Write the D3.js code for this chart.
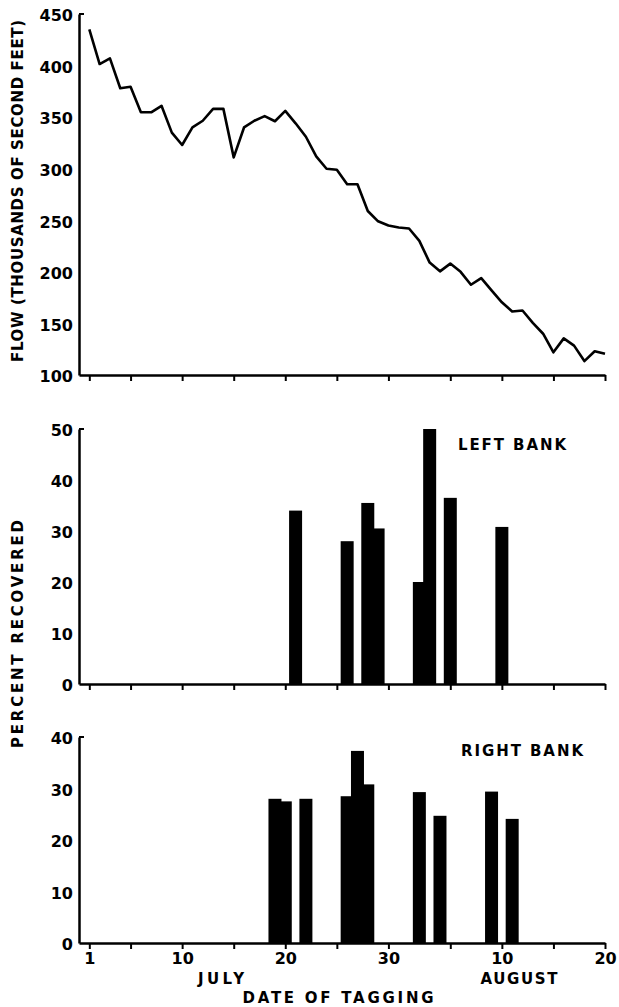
<!DOCTYPE html>
<html><head><meta charset="utf-8">
<script src="https://cdn.jsdelivr.net/npm/d3@7"></script>
<style>
html,body{margin:0;padding:0;background:#fff;}
svg text{font-family:"DejaVu Sans",sans-serif;font-weight:bold;fill:#000;}
</style></head>
<body>
<svg id="c" width="619" height="1007"></svg>
<script>
// ---- data ----
const flowDays = d3.range(1, 52); // July 1 (1) .. Aug 20 (51)
const flowValues = [435,401.5,407,378,379.5,354.7,354.7,361,335,323,340,346.5,358,358,311,340,346.5,351,346,356,344,331,312,300,299,285,285,259,249,245,243,242,230,209,200.5,208,200,187.5,194,182,170.5,161.5,162.5,150.5,140,122,135.5,128.5,113.5,123,120.5];
const leftDays = [21, 26, 28, 29, 33, 34, 36, 41];
const leftValues = [34, 28, 35.5, 30.5, 20, 50, 36.5, 30.8];
const rightDays = [19, 20, 22, 26, 27, 28, 33, 35, 40, 42];
const rightValues = [28, 27.5, 28, 28.5, 37.3, 30.8, 29.3, 24.7, 29.4, 24.1];
const tickDays = [1, 5, 10, 15, 20, 25, 30, 36, 41, 46, 51];
const tickLabelDays = [1, 10, 20, 30, 41, 51];
const tickLabels = ["1", "10", "20", "30", "10", "20"];
const flowTicks = [100,150,200,250,300,350,400,450];
const leftTicks = [0,10,20,30,40,50];
const rightTicks = [0,10,20,30,40];

// ---- layout ----
const svg = d3.select("#c");
svg.append("rect").attr("width",619).attr("height",1007).attr("fill","#fff");
const x = d3.scaleLinear().domain([0, 51]).range([79, 605]);
const yFlow = d3.scaleLinear().domain([100, 450]).range([375, 14]);
const yLeft = d3.scaleLinear().domain([0, 50]).range([684, 429]);
const yRight = d3.scaleLinear().domain([0, 40]).range([943, 737]);
const barHalf = 0.63;

function xAxis(y0, withLabels) {
  const lab = new Map(tickLabelDays.map((d,i)=>[d, tickLabels[i]]));
  const ax = d3.axisBottom(x).tickValues(tickDays).tickSizeInner(6).tickSizeOuter(0)
    .tickPadding(4).tickFormat(d => withLabels ? (lab.get(d) || "") : "");
  const g = svg.append("g").attr("transform", `translate(0,${y0})`).call(ax);
  g.select(".domain").attr("stroke","#000").attr("stroke-width",2.5);
  g.selectAll(".tick line").attr("stroke","#000").attr("stroke-width",2);
  g.selectAll(".tick text").attr("font-size",16).attr("font-family","DejaVu Sans").attr("font-weight","bold");
  return g;
}
function yAxis(scale, ticks) {
  const ax = d3.axisLeft(scale).tickValues(ticks).tickSizeInner(0).tickSizeOuter(0).tickPadding(6);
  const g = svg.append("g").attr("transform", `translate(${x(0)},0)`).call(ax);
  g.select(".domain").attr("stroke","#000").attr("stroke-width",2.5);
  g.selectAll(".tick text").attr("font-size",16).attr("font-family","DejaVu Sans").attr("font-weight","bold").attr("dy","0.42em");
  const top = scale(ticks[ticks.length-1]);
  g.append("line").attr("x1",0).attr("x2",5).attr("y1",top).attr("y2",top).attr("stroke","#000").attr("stroke-width",2);
  return g;
}

// ---- top panel: flow ----
yAxis(yFlow, flowTicks);
xAxis(375, false);
svg.append("path")
  .datum(flowDays.map((d,i)=>[d, flowValues[i]]))
  .attr("fill","none").attr("stroke","#000").attr("stroke-width",2.6).attr("stroke-linejoin","round")
  .attr("d", d3.line().x(d=>x(d[0])).y(d=>yFlow(d[1])));
svg.append("text").attr("transform","translate(23,191) rotate(-90)")
  .attr("text-anchor","middle").attr("font-size",15)
  .attr("textLength",342).attr("lengthAdjust","spacing")
  .text("FLOW (THOUSANDS OF SECOND FEET)");

// ---- middle panel: left bank ----
svg.append("g").selectAll("rect").data(leftDays.map((d,i)=>[d,leftValues[i]])).join("rect")
  .attr("x", d=>x(d[0]-barHalf)).attr("width", d=>x(d[0]+barHalf)-x(d[0]-barHalf))
  .attr("y", d=>yLeft(d[1])).attr("height", d=>yLeft(0)-yLeft(d[1])).attr("fill","#000");
yAxis(yLeft, leftTicks);
xAxis(684, false);
svg.append("text").attr("x",458).attr("y",450).attr("font-size",15)
  .attr("textLength",108).attr("lengthAdjust","spacing").text("LEFT BANK");

// ---- bottom panel: right bank ----
svg.append("g").selectAll("rect").data(rightDays.map((d,i)=>[d,rightValues[i]])).join("rect")
  .attr("x", d=>x(d[0]-barHalf)).attr("width", d=>x(d[0]+barHalf)-x(d[0]-barHalf))
  .attr("y", d=>yRight(d[1])).attr("height", d=>yRight(0)-yRight(d[1])).attr("fill","#000");
yAxis(yRight, rightTicks);
xAxis(943, true);
svg.append("text").attr("x",461).attr("y",756).attr("font-size",15)
  .attr("textLength",122).attr("lengthAdjust","spacing").text("RIGHT BANK");

svg.append("text").attr("transform","translate(23,634) rotate(-90)")
  .attr("text-anchor","middle").attr("font-size",15)
  .attr("textLength",228).attr("lengthAdjust","spacing")
  .text("PERCENT   RECOVERED");

// ---- x labels ----
svg.append("text").attr("x",221).attr("y",984).attr("text-anchor","middle").attr("font-size",15)
  .attr("textLength",46).attr("lengthAdjust","spacing").text("JULY");
svg.append("text").attr("x",519).attr("y",984).attr("text-anchor","middle").attr("font-size",15)
  .attr("textLength",77).attr("lengthAdjust","spacing").text("AUGUST");
svg.append("text").attr("x",338).attr("y",1003).attr("text-anchor","middle").attr("font-size",15)
  .attr("textLength",191).attr("lengthAdjust","spacing").text("DATE OF TAGGING");
</script>
</body></html>
